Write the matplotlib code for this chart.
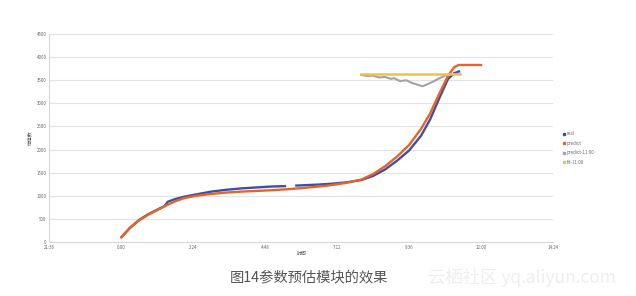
import matplotlib
matplotlib.use("Agg")
import matplotlib.pyplot as plt
from matplotlib.lines import Line2D

plt.rcParams['font.family'] = ['Noto Sans CJK SC', 'DejaVu Sans']

# hours from 0:00
real_hours = [0.0, 0.3, 0.6, 0.9, 1.2, 1.45, 1.55, 1.8, 2.1, 2.5, 3.0, 3.5, 4.0, 4.5, 5.0, 5.5]
real_vals = [100, 310, 480, 600, 700, 780, 870, 930, 980, 1030, 1090, 1130, 1160, 1180, 1200, 1210]
real_hours2 = [5.8, 6.5, 7.0, 7.5, 8.0, 8.4, 8.8, 9.2, 9.6, 10.0, 10.3, 10.6, 10.9, 11.1, 11.3]
real_vals2 = [1220, 1240, 1260, 1290, 1340, 1430, 1570, 1760, 1980, 2300, 2650, 3100, 3530, 3650, 3700]

pred_hours = [0.0, 0.3, 0.6, 0.9, 1.2, 1.5, 1.8, 2.1, 2.5, 3.0, 3.5, 4.0, 4.5, 5.0, 5.5, 6.0,
              6.5, 7.0, 7.5, 8.0, 8.4, 8.8, 9.2, 9.6, 10.0, 10.3, 10.6, 10.9, 11.1, 11.25, 12.0]
pred_vals = [100, 320, 470, 590, 690, 790, 880, 950, 1000, 1040, 1070, 1090, 1105, 1120, 1140, 1165,
             1195, 1230, 1280, 1350, 1470, 1640, 1850, 2100, 2450, 2780, 3200, 3600, 3780, 3830, 3830]

p11_hours = [8.0, 8.2, 8.4, 8.6, 8.8, 9.0, 9.1, 9.3, 9.5, 9.7, 9.9, 10.05, 10.2, 10.4, 10.6, 10.8, 11.0, 11.3]
p11_vals = [3615, 3590, 3600, 3560, 3570, 3530, 3545, 3480, 3500, 3440, 3400, 3370, 3410, 3470, 3540, 3600, 3630, 3640]

fit_hours = [8.0, 11.3]
fit_vals = [3630, 3630]

x_ticks = [-2.4, 0, 2.4, 4.8, 7.2, 9.6, 12.0, 14.4]
x_labels = ['21:36', '0:00', '2:24', '4:48', '7:12', '9:36', '12:00', '14:24']
y_ticks = [0, 500, 1000, 1500, 2000, 2500, 3000, 3500, 4000, 4500]

legend_labels = ['real', 'predict', 'predict-11:00', 'fit-11:00']
COLORS = ['#3d4fa6', '#e8632c', '#a3a3a3', '#f3c044']

fig = plt.figure(figsize=(6.36, 2.96), dpi=100)
ax = fig.add_axes([0.0775, 0.1824, 0.7920, 0.7027])

ax.plot(real_hours, real_vals, color=COLORS[0], lw=1.7, solid_capstyle='butt')
ax.plot(real_hours2, real_vals2, color=COLORS[0], lw=1.7, solid_capstyle='butt')
ax.plot(pred_hours, pred_vals, color=COLORS[1], lw=1.7)
ax.plot(p11_hours, p11_vals, color=COLORS[2], lw=1.5)
ax.plot(fit_hours, fit_vals, color=COLORS[3], lw=1.8)

ax.set_xlim(-2.4, 14.4)
ax.set_ylim(0, 4500)
ax.set_xticks(x_ticks)
ax.set_xticklabels(x_labels)
ax.set_yticks(y_ticks)
ax.set_yticklabels([str(v) for v in y_ticks])
ax.tick_params(labelsize=3.2, colors='#666666', length=0, pad=2)
ax.grid(axis='y', color='#e3e3e3', lw=0.8)
ax.set_axisbelow(True)
for s in ['top', 'right']:
    ax.spines[s].set_visible(False)
for s in ['left', 'bottom']:
    ax.spines[s].set_color('#d8d8d8')
    ax.spines[s].set_linewidth(0.8)

ax.set_xlabel('时间', fontsize=3.5, color='#555555', labelpad=1)
ax.set_ylabel('估值数', fontsize=3.5, color='#555555', labelpad=3)

handles = [Line2D([], [], marker='s', ls='', ms=1.8, color=c) for c in COLORS]
fig.legend(handles, legend_labels, loc='upper left', bbox_to_anchor=(0.878, 0.57),
           frameon=False, fontsize=3.2, handlelength=0.6, handletextpad=0.4,
           labelspacing=1.0, labelcolor='#666666')

fig.text(0.486, 0.062, '图14参数预估模块的效果', ha='center', va='center',
         fontsize=10.3, color='#555555')
fig.text(0.82, 0.062, '云栖社区 yq.aliyun.com', ha='center', va='center',
         fontsize=12.5, color='#eeeeee')

fig.savefig('out.png', dpi=100, facecolor='white')
